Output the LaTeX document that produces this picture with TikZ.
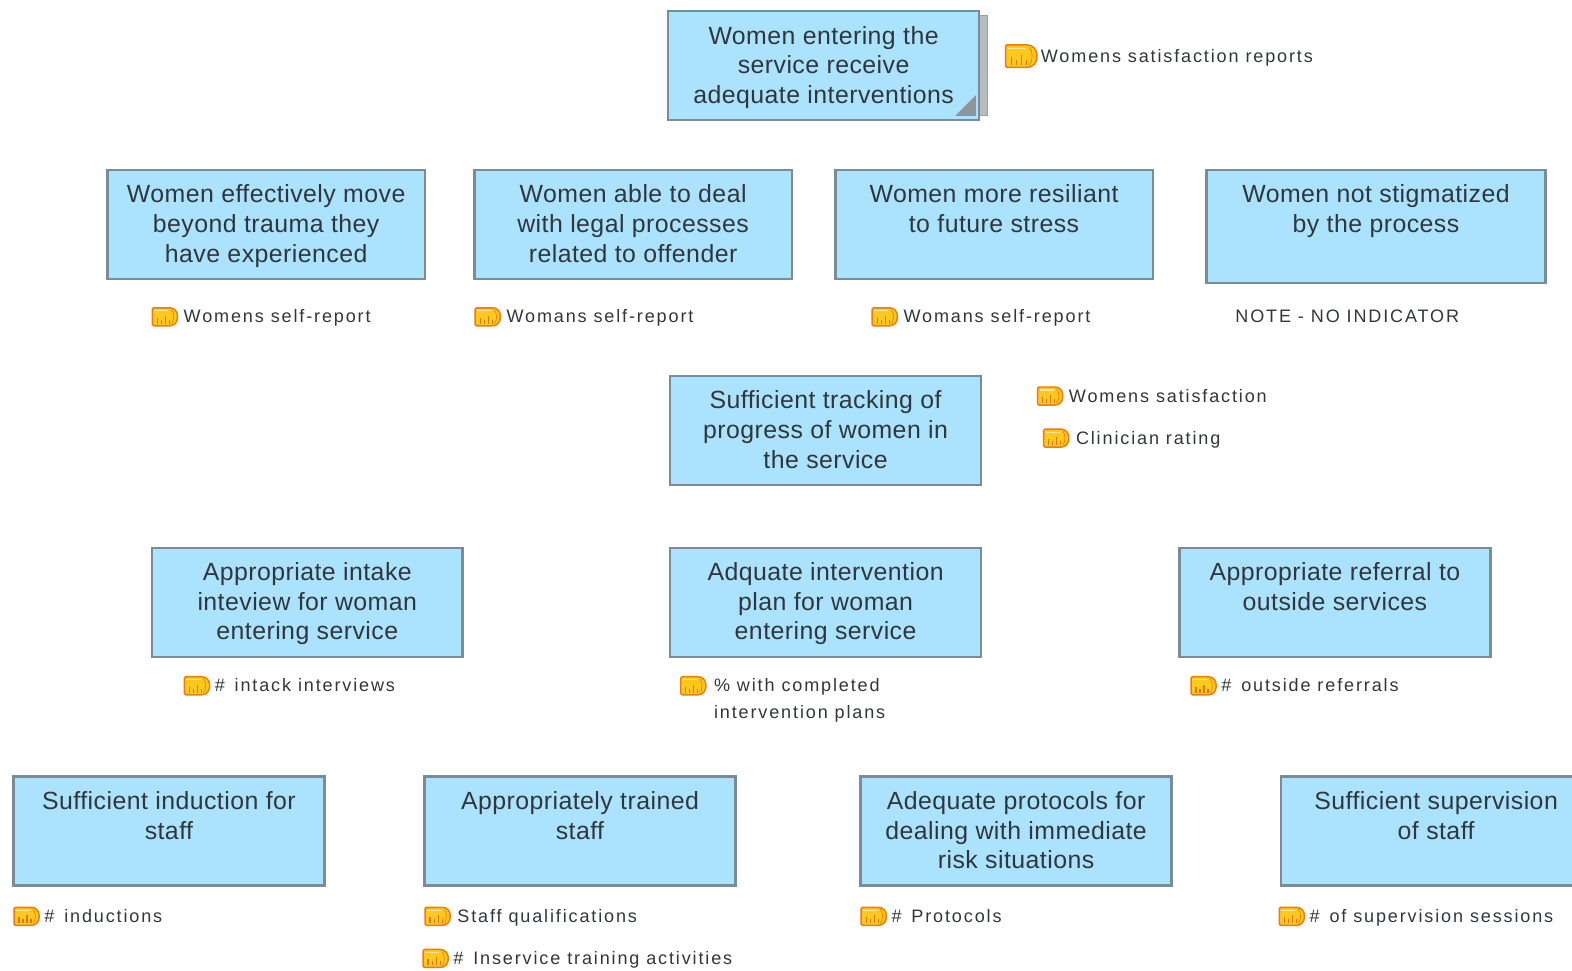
\documentclass[tikz,border=0pt]{standalone}
\usepackage{fontspec}
\setmainfont[LetterSpace=1.8]{Liberation Sans}
\newfontfamily\indfont[LetterSpace=10.3]{Liberation Sans}
\definecolor{boxblue}{HTML}{ABE3FF}
\definecolor{boxedge}{HTML}{7C8C96}
\definecolor{stackgray}{HTML}{B8BCBF}
\definecolor{stackedge}{HTML}{9A9FA3}
\definecolor{foldgray}{HTML}{8E9498}
\definecolor{inktext}{HTML}{30373C}
\definecolor{gaugeedge}{HTML}{EE7A10}
\definecolor{gaugefill}{HTML}{FFC81E}
\definecolor{gaugebar}{HTML}{D9780C}
\tikzset{
	outcome/.style={draw=boxedge,line width=1.9pt,fill=boxblue,rectangle,align=center,text=inktext,minimum width=232.5pt,minimum height=81.5pt,inner sep=0pt,text height=56pt,text depth=0pt,font=\fontsize{18.6}{22.1}\selectfont},
	broadoutcome/.style={outcome,minimum width=237.5pt},
	wideoutcome/.style={outcome,minimum width=253.5pt,minimum height=84.5pt,text height=53pt},
	stackback/.style={draw=stackedge,line width=1pt,fill=stackgray,rectangle,minimum width=232.5pt,minimum height=75pt},
	indicator/.style={anchor=base west,align=left,inner sep=0pt,text=inktext,font=\indfont\fontsize{13.5}{20.2}\selectfont},
	pics/gauge/.style={code={
		\draw[gaugeedge,line width=1.1pt,fill=gaugefill,rounded corners=1pt] (0,-9) -- (16,-9) .. controls (22,-9) and (25,-5) .. (25,0) .. controls (25,5) and (22,9) .. (16,9) -- (0,9) -- cycle;
		\draw[white!60!gaugefill,line width=0.9pt] (2,-6) -- (16,-6);
		\draw[gaugebar,line width=0.9pt] (5,7) -- (5,1) (9,7) -- (9,3) (13,7) -- (13,-1) (17,7) -- (17,3);
		\draw[gaugeedge,line width=0.5pt] (19,-7) .. controls (22,-4) and (22,4) .. (19,7);
	}},
}
\begin{document}
\begin{tikzpicture}[x=0.75pt,y=-0.75pt]
	\useasboundingbox (0,0) rectangle (1568,968);
	\node[stackback] (stack) at (830,65.5) {};
	\node[outcome] (enter) at (821.5,65.5) {Women entering the\\service receive\\adequate interventions};
	\fill[foldgray] (953,115.5) -- (973.5,115.5) -- (973.5,95) -- cycle;
	\pic[scale=1.25] at (1003,56) {gauge};
	\node[indicator] (reports) at (1038,62) {Womens satisfaction reports};

	\node[broadoutcome] (trauma) at (265.5,224) {Women effectively move\\beyond trauma they\\have experienced};
	\node[broadoutcome] (legal) at (631.5,224) {Women able to deal\\with legal processes\\related to offender};
	\node[broadoutcome] (stress) at (991.5,224) {Women more resiliant\\to future stress\\~};
	\node[wideoutcome] (stigma) at (1372.5,226) {Women not stigmatized\\by the process\\~};
	\pic at (152,316) {gauge};
	\node[indicator] (selfa) at (183,322) {Womens self-report};
	\pic at (474,316) {gauge};
	\node[indicator] (selfb) at (505,322) {Womans self-report};
	\pic at (870,316) {gauge};
	\node[indicator] (selfc) at (901,322) {Womans self-report};
	\node[indicator] (note) at (1232,322) {NOTE - NO INDICATOR};

	\node[outcome] (track) at (823.5,429.5) {Sufficient tracking of\\progress of women in\\the service};
	\pic at (1035,395) {gauge};
	\node[indicator] (satis) at (1066,401) {Womens satisfaction};
	\pic at (1041,437) {gauge};
	\node[indicator] (rating) at (1073,443) {Clinician rating};

	\node[outcome] (intake) at (306.5,601) {Appropriate intake\\inteview for woman\\entering service};
	\node[outcome] (plan) at (823.5,601) {Adquate intervention\\plan for woman\\entering service};
	\node[outcome] (referral) at (1331.5,601) {Appropriate referral to\\outside services\\~};
	\pic at (184,684) {gauge};
	\node[indicator] (intakes) at (214,690) {\#\ \,intack interviews};
	\pic at (679,684) {gauge};
	\node[indicator] (plans) at (712,717) {\%\ with completed\\intervention plans};
	\pic at (1188,684) {gauge};
	\node[indicator] (referrals) at (1218,690) {\#\ \,outside referrals};

	\node[outcome] (induct) at (168.5,829) {Sufficient induction for\\staff\\~};
	\node[outcome] (trained) at (578.5,829) {Appropriately trained\\staff\\~};
	\node[outcome] (protocol) at (1013.5,829) {Adequate protocols for\\dealing with immediate\\risk situations};
	\node[outcome] (superv) at (1432.5,829) {Sufficient supervision\\of staff\\~};
	\pic at (14,914) {gauge};
	\node[indicator] (inducts) at (44,920) {\#\ \,inductions};
	\pic at (424,914) {gauge};
	\node[indicator] (quals) at (456,920) {Staff qualifications};
	\pic at (422,956) {gauge};
	\node[indicator] (inservice) at (452,962) {\#\ \,Inservice training activities};
	\pic at (859,914) {gauge};
	\node[indicator] (protocols) at (889,920) {\#\ \,Protocols};
	\pic at (1276,914) {gauge};
	\node[indicator] (sessions) at (1306,920) {\#\ \,of supervision sessions};
\end{tikzpicture}
\end{document}
